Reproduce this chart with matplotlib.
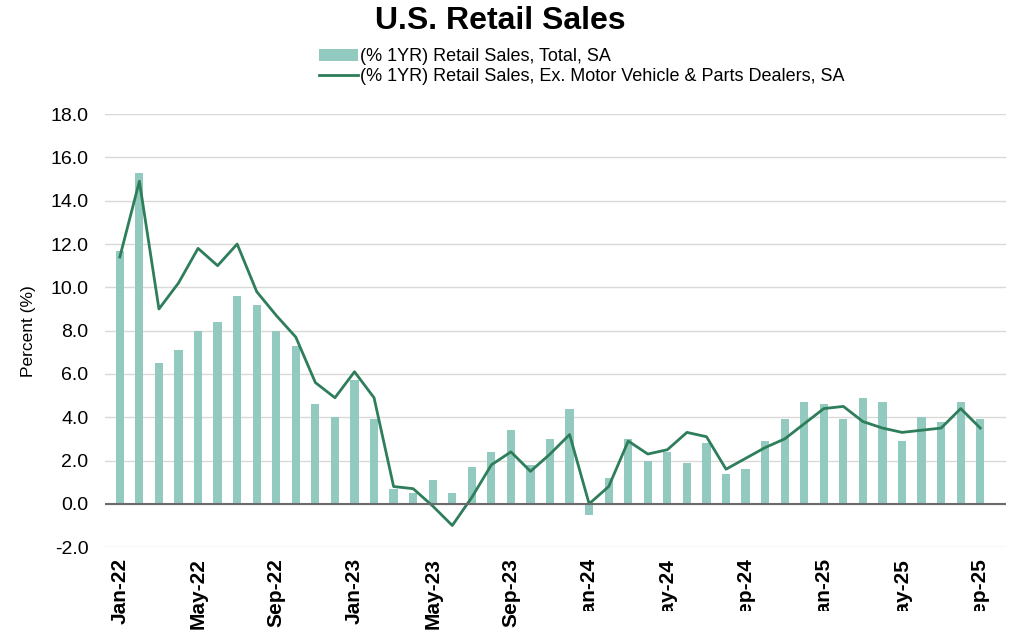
import numpy as np
import pandas as pd
import matplotlib
matplotlib.use("Agg")
import matplotlib.pyplot as plt
from matplotlib.patches import Rectangle

# monthly, Jan-22 .. Sep-25
months = pd.date_range("2022-01-01", "2025-09-01", freq="MS")

total_sa = [11.7, 15.3, 6.5, 7.1, 8.0, 8.4, 9.6, 9.2, 8.0, 7.3, 4.6, 4.0,
            5.7, 3.9, 0.7, 0.5, 1.1, 0.5, 1.7, 2.4, 3.4, 1.8, 3.0, 4.4,
            -0.5, 1.2, 3.0, 2.0, 2.4, 1.9, 2.8, 1.4, 1.6, 2.9, 3.9, 4.7,
            4.6, 3.9, 4.9, 4.7, 2.9, 4.0, 3.8, 4.7, 3.9]

ex_motor = [11.4, 14.9, 9.0, 10.2, 11.8, 11.0, 12.0, 9.8, 8.7, 7.7, 5.6, 4.9,
            6.1, 4.9, 0.8, 0.7, -0.1, -1.0, 0.3, 1.8, 2.4, 1.5, 2.3, 3.2,
            0.0, 0.8, 2.9, 2.3, 2.5, 3.3, 3.1, 1.6, 2.1, 2.6, 3.0, 3.7,
            4.4, 4.5, 3.8, 3.5, 3.3, 3.4, 3.5, 4.4, 3.5]

bar_label = "(% 1YR) Retail Sales, Total, SA"
line_label = "(% 1YR) Retail Sales, Ex. Motor Vehicle & Parts Dealers, SA"

bar_color = "#93CABF"
line_color = "#2E7D5B"
font = "Liberation Sans"

fig = plt.figure(figsize=(10.21, 6.34), dpi=100)
ax = fig.add_axes([0.103, 0.137, 0.882, 0.683])

x = np.arange(len(months))
bars = ax.bar(x, total_sa, width=0.42, color=bar_color, zorder=2)
line, = ax.plot(x, ex_motor, color=line_color, lw=2, zorder=3)

ax.set_ylim(-2, 18)
yt = np.arange(-2, 18.1, 2)
ax.set_yticks(yt)
ax.set_yticklabels([f"{v:.1f}" for v in yt], fontsize=14, family=font)
ax.yaxis.grid(True, color="#d9d9d9", lw=1, zorder=0)
ax.axhline(0, color="#6b6b6b", lw=1.5, zorder=4)
ax.set_xlim(-0.75, 45.3)

ticks = x[::4]
ax.set_xticks(ticks)
ax.set_xticklabels([m.strftime("%b-%y") for m in months[::4]], rotation=90,
                   fontsize=15, fontweight="bold", family=font)
ax.tick_params(axis="y", length=0, pad=12)
ax.tick_params(axis="x", length=0, pad=8)

for s in ax.spines.values():
    s.set_visible(False)

ax.set_ylabel("Percent (%)", fontsize=12.5, family=font, labelpad=10)

fig.text(0.49, 0.967, "U.S. Retail Sales", ha="center", va="center",
         fontsize=23, fontweight="bold", family=font)

fig.legend([bars, line], [bar_label, line_label],
           loc="upper left", bbox_to_anchor=(0.305, 0.935), frameon=False,
           prop={"family": font, "size": 13},
           handlelength=2.2, handletextpad=0.1, labelspacing=0.15,
           borderaxespad=0)

# white patch over the lower end of the later tick labels
fig.patches.append(Rectangle((0.566, 0), 0.434, 0.036, transform=fig.transFigure,
                             facecolor="white", edgecolor="none", zorder=10))

fig.savefig("out.png", dpi=100)
